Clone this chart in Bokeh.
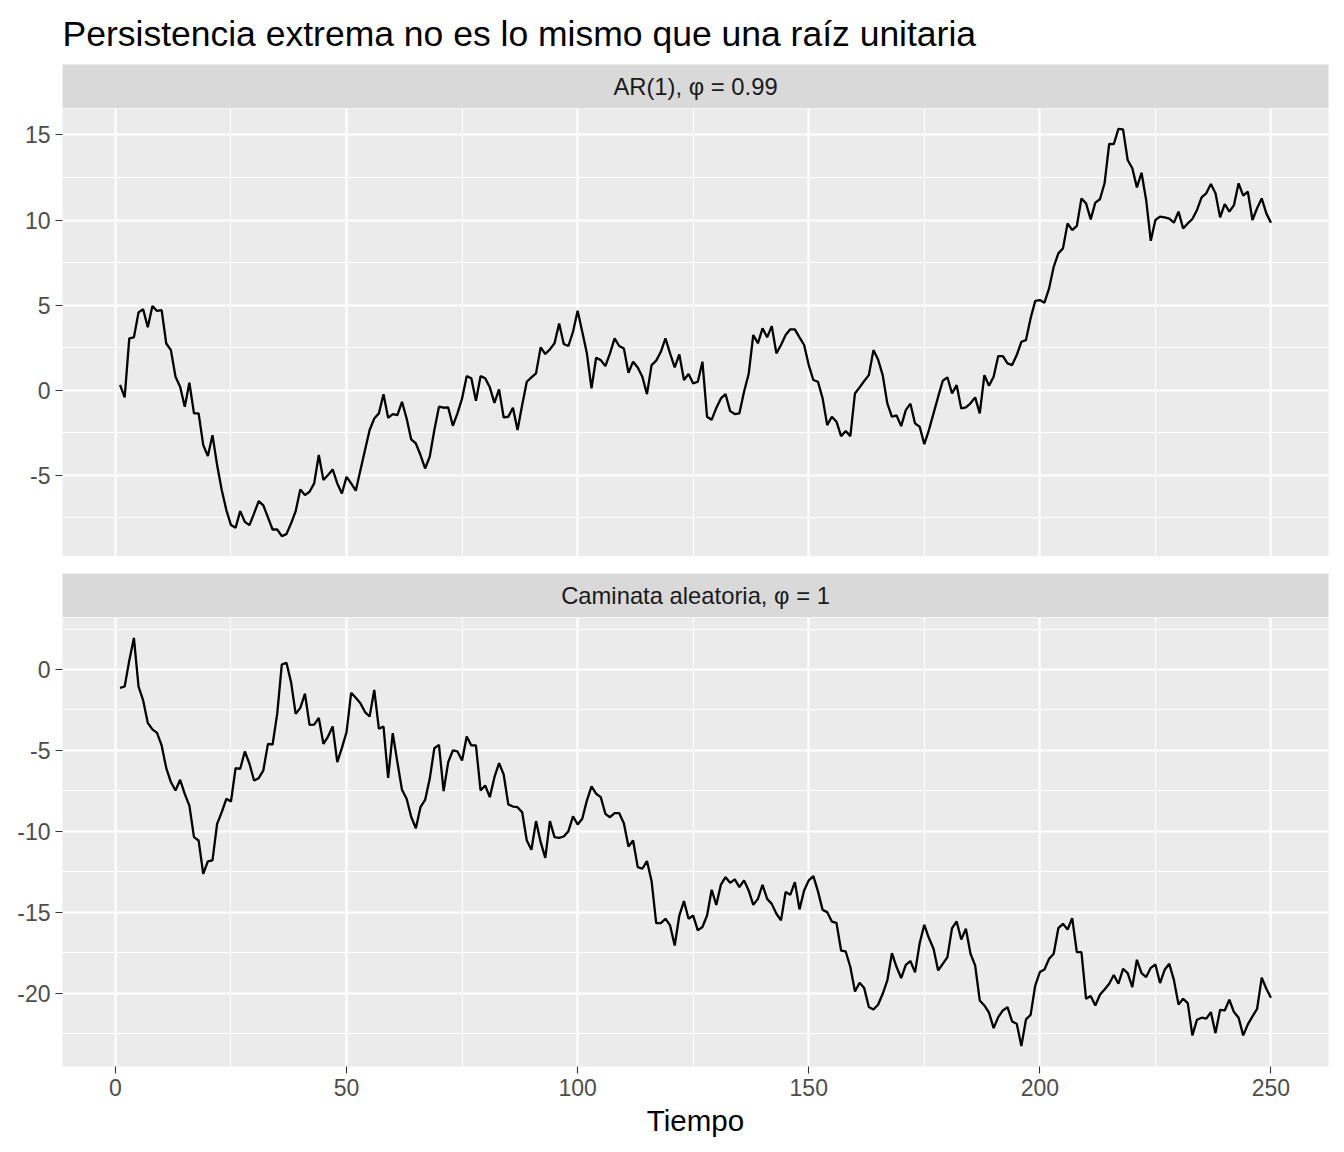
from bokeh.plotting import figure
from bokeh.models import FixedTicker, Label, Spacer, Range1d
from bokeh.layouts import column
from bokeh.embed import file_html
from bokeh.resources import INLINE

TITLE = "Persistencia extrema no es lo mismo que una raíz unitaria"
STRIP_AR = "AR(1), φ = 0.99"
STRIP_RW = "Caminata aleatoria, φ = 1"
X_LABEL = "Tiempo"

tiempo = list(range(1, 251))

ar_values = [
    0.3, -0.43, 3.04, 3.1, 4.57, 4.75, 3.69, 4.94, 4.65, 4.7,
    2.74, 2.35, 0.78, 0.2, -0.98, 0.43, -1.37, -1.37, -3.24, -3.88,
    -2.65, -4.41, -5.88, -7.06, -7.94, -8.1, -7.12, -7.75, -7.94, -7.25,
    -6.53, -6.78, -7.49, -8.2, -8.2, -8.59, -8.47, -7.84, -7.12, -5.84,
    -6.18, -5.98, -5.49, -3.82, -5.29, -5.0, -4.67, -5.49, -6.08, -5.1,
    -5.49, -5.92, -4.71, -3.53, -2.35, -1.67, -1.37, -0.25, -1.63, -1.41,
    -1.47, -0.69, -1.67, -2.9, -3.14, -3.82, -4.61, -3.92, -2.35, -0.98,
    -1.04, -1.02, -2.1, -1.37, -0.49, 0.82, 0.69, -0.63, 0.82, 0.69,
    0.16, -0.75, 0.04, -1.61, -1.57, -1.04, -2.35, -0.88, 0.49, 0.75,
    0.98, 2.51, 2.12, 2.39, 2.75, 3.92, 2.71, 2.59, 3.43, 4.67,
    3.43, 2.16, 0.1, 1.9, 1.76, 1.41, 2.16, 3.04, 2.59, 2.45,
    1.02, 1.67, 1.33, 0.78, -0.24, 1.47, 1.73, 2.25, 3.04, 2.16,
    1.33, 2.1, 0.59, 0.94, 0.39, 0.49, 1.67, -1.57, -1.75, -1.05,
    -0.49, -0.24, -1.24, -1.41, -1.37, -0.1, 0.94, 3.24, 2.75, 3.63,
    3.1, 3.76, 2.16, 2.65, 3.24, 3.57, 3.57, 3.1, 2.65, 1.47,
    0.59, 0.49, -0.49, -2.06, -1.57, -1.86, -2.71, -2.41, -2.71, -0.2,
    0.16, 0.53, 0.88, 2.35, 1.8, 0.88, -0.78, -1.57, -1.49, -2.12,
    -1.18, -0.8, -1.96, -2.16, -3.18, -2.35, -1.37, -0.39, 0.55, 0.75,
    -0.2, 0.29, -1.08, -1.02, -0.78, -0.43, -1.37, 0.88, 0.25, 0.78,
    2.0, 2.0, 1.57, 1.47, 2.06, 2.84, 2.94, 4.22, 5.24, 5.29,
    5.14, 5.98, 7.25, 8.04, 8.33, 9.8, 9.41, 9.65, 11.27, 10.98,
    10.04, 11.02, 11.22, 12.16, 14.47, 14.46, 15.36, 15.33, 13.53, 13.04,
    11.92, 12.78, 11.18, 8.78, 10.0, 10.2, 10.16, 10.08, 9.84, 10.49,
    9.51, 9.8, 10.06, 10.59, 11.33, 11.57, 12.12, 11.57, 10.16, 10.94,
    10.49, 10.88, 12.16, 11.43, 11.67, 10.0, 10.69, 11.27, 10.39, 9.84,
]

rw_values = [
    -1.13, -1.05, 0.56, 1.95, -1.05, -1.91, -3.29, -3.7, -3.91, -4.69,
    -6.09, -6.95, -7.47, -6.81, -7.68, -8.4, -10.35, -10.56, -12.61, -11.85,
    -11.79, -9.53, -8.81, -7.98, -8.15, -6.09, -6.13, -5.06, -5.82, -6.85,
    -6.71, -6.23, -4.59, -4.63, -2.74, 0.31, 0.41, -0.78, -2.74, -2.37,
    -1.5, -3.42, -3.4, -2.99, -4.59, -4.14, -3.52, -5.72, -4.84, -3.87,
    -1.44, -1.75, -2.08, -2.63, -2.9, -1.26, -3.66, -3.52, -6.69, -3.93,
    -5.72, -7.43, -7.98, -9.11, -9.8, -8.5, -8.05, -6.75, -4.86, -4.65,
    -7.51, -5.72, -5.0, -5.06, -5.62, -4.14, -4.69, -4.69, -7.47, -7.16,
    -7.88, -6.65, -5.78, -6.48, -8.33, -8.46, -8.5, -8.81, -10.56, -11.13,
    -9.36, -10.66, -11.63, -9.36, -10.35, -10.39, -10.31, -9.98, -9.07, -9.57,
    -9.22, -8.09, -7.22, -7.67, -7.88, -8.91, -9.12, -8.87, -8.87, -9.49,
    -10.93, -10.56, -12.2, -12.3, -11.83, -13.07, -15.66, -15.66, -15.39, -15.8,
    -17.04, -15.19, -14.3, -15.39, -15.19, -16.11, -15.9, -15.19, -13.6, -14.54,
    -13.28, -12.82, -13.17, -12.96, -13.44, -13.02, -13.64, -14.53, -14.16, -13.29,
    -14.16, -14.47, -15.08, -15.49, -13.74, -13.91, -13.13, -14.81, -13.64, -13.02,
    -12.76, -13.7, -14.84, -14.98, -15.56, -15.64, -17.35, -17.41, -18.37, -19.88,
    -19.34, -19.67, -20.84, -20.99, -20.7, -20.02, -19.2, -17.51, -18.37, -19.05,
    -18.23, -18.0, -18.7, -16.9, -15.76, -16.58, -17.24, -18.58, -18.17, -17.76,
    -15.97, -15.56, -16.67, -16.01, -17.55, -18.27, -20.43, -20.74, -21.19, -22.14,
    -21.46, -21.05, -20.84, -21.73, -21.87, -23.25, -21.6, -21.32, -19.51, -18.68,
    -18.52, -17.86, -17.55, -15.97, -15.7, -16.05, -15.35, -17.45, -17.45, -20.33,
    -20.16, -20.74, -20.08, -19.75, -19.4, -18.86, -19.4, -18.48, -18.74, -19.61,
    -17.92, -18.74, -18.99, -18.42, -18.21, -19.36, -18.54, -18.17, -19.16, -20.68,
    -20.33, -20.6, -22.59, -21.62, -21.5, -21.56, -21.15, -22.45, -21.01, -21.05,
    -20.39, -21.15, -21.5, -22.59, -21.91, -21.42, -20.95, -19.03, -19.71, -20.27,
]

x_ticks = [0, 50, 100, 150, 200, 250]
ar_ticks = [-5, 0, 5, 10, 15]
rw_ticks = [-20, -15, -10, -5, 0]

FONT = "Liberation Sans"
FRAME_W = 1266
LEFT = 62
RIGHT = 8
PANEL_BG = "#EBEBEB"
STRIP_BG = "#D9D9D9"


def expand(lo, hi, f=0.05):
    d = (hi - lo) * f
    return lo - d, hi + d


def minor_of(ticks):
    step = ticks[1] - ticks[0]
    return [ticks[0] - step / 2] + [t + step / 2 for t in ticks]


x_range = Range1d(*expand(min(tiempo), max(tiempo)))


def strip(text, title=None, top=0):
    p = figure(frame_width=FRAME_W, frame_height=44, x_range=(0, 1), y_range=(0, 1),
               min_border_left=LEFT, min_border_right=RIGHT, min_border_top=top,
               min_border_bottom=0, x_axis_location=None, y_axis_location=None,
               toolbar_location=None, output_backend="svg", title=title)
    p.grid.visible = False
    p.background_fill_color = STRIP_BG
    p.outline_line_color = None
    p.add_layout(Label(x=0.5, y=0.5, text=text, text_align="center",
                       text_baseline="middle", text_font=FONT,
                       text_font_size="23.8px", text_color="#1A1A1A"))
    if title is not None:
        p.title.text_font = FONT
        p.title.text_font_size = "35.5px"
        p.title.text_font_style = "normal"
        p.title.text_color = "black"
        p.title.align = "left"
        p.title.offset = 0
        p.title.standoff = 22
    return p


def style_axis(ax):
    ax.axis_line_color = None
    ax.major_tick_line_color = "#333333"
    ax.major_tick_line_width = 1.1
    ax.major_tick_out = 7
    ax.major_tick_in = 0
    ax.minor_tick_line_color = None
    ax.major_label_text_font = FONT
    ax.major_label_text_font_size = "23px"
    ax.major_label_text_color = "#4D4D4D"
    ax.major_label_standoff = 5


def panel(values, ticks, frame_h, with_x):
    y_range = Range1d(*expand(min(values), max(values)))
    p = figure(frame_width=FRAME_W, frame_height=frame_h, x_range=x_range, y_range=y_range,
               min_border_left=LEFT, min_border_right=RIGHT, min_border_top=0,
               min_border_bottom=0, x_axis_location="below" if with_x else None,
               toolbar_location=None, output_backend="svg")
    p.background_fill_color = PANEL_BG
    p.outline_line_color = None
    p.xgrid.ticker = FixedTicker(ticks=x_ticks, minor_ticks=minor_of(x_ticks))
    p.ygrid.ticker = FixedTicker(ticks=ticks, minor_ticks=minor_of(ticks))
    for g in (p.xgrid, p.ygrid):
        g.grid_line_color = "white"
        g.grid_line_width = 2.2
        g.minor_grid_line_color = "white"
        g.minor_grid_line_width = 1.1
    p.yaxis.ticker = FixedTicker(ticks=ticks, minor_ticks=[])
    p.yaxis.major_label_overrides = {t: str(t) for t in ticks}
    style_axis(p.yaxis[0])
    if with_x:
        p.xaxis.ticker = FixedTicker(ticks=x_ticks, minor_ticks=[])
        p.xaxis.major_label_overrides = {t: str(t) for t in x_ticks}
        style_axis(p.xaxis[0])
        p.xaxis.axis_label = X_LABEL
        p.xaxis.axis_label_text_font = FONT
        p.xaxis.axis_label_text_font_size = "29.5px"
        p.xaxis.axis_label_text_font_style = "normal"
        p.xaxis.axis_label_text_color = "black"
        p.xaxis.axis_label_standoff = 5
    p.line(tiempo, values, line_color="black", line_width=2.3)
    return p


s1 = strip(STRIP_AR, title=TITLE, top=64)
p1 = panel(ar_values, ar_ticks, 448, False)
gap = Spacer(width=FRAME_W + LEFT + RIGHT, height=17)
s2 = strip(STRIP_RW)
p2 = panel(rw_values, rw_ticks, 449, True)

layout = column(s1, p1, gap, s2, p2, spacing=0)

with open("out.html", "w") as f:
    f.write(file_html(layout, INLINE))
